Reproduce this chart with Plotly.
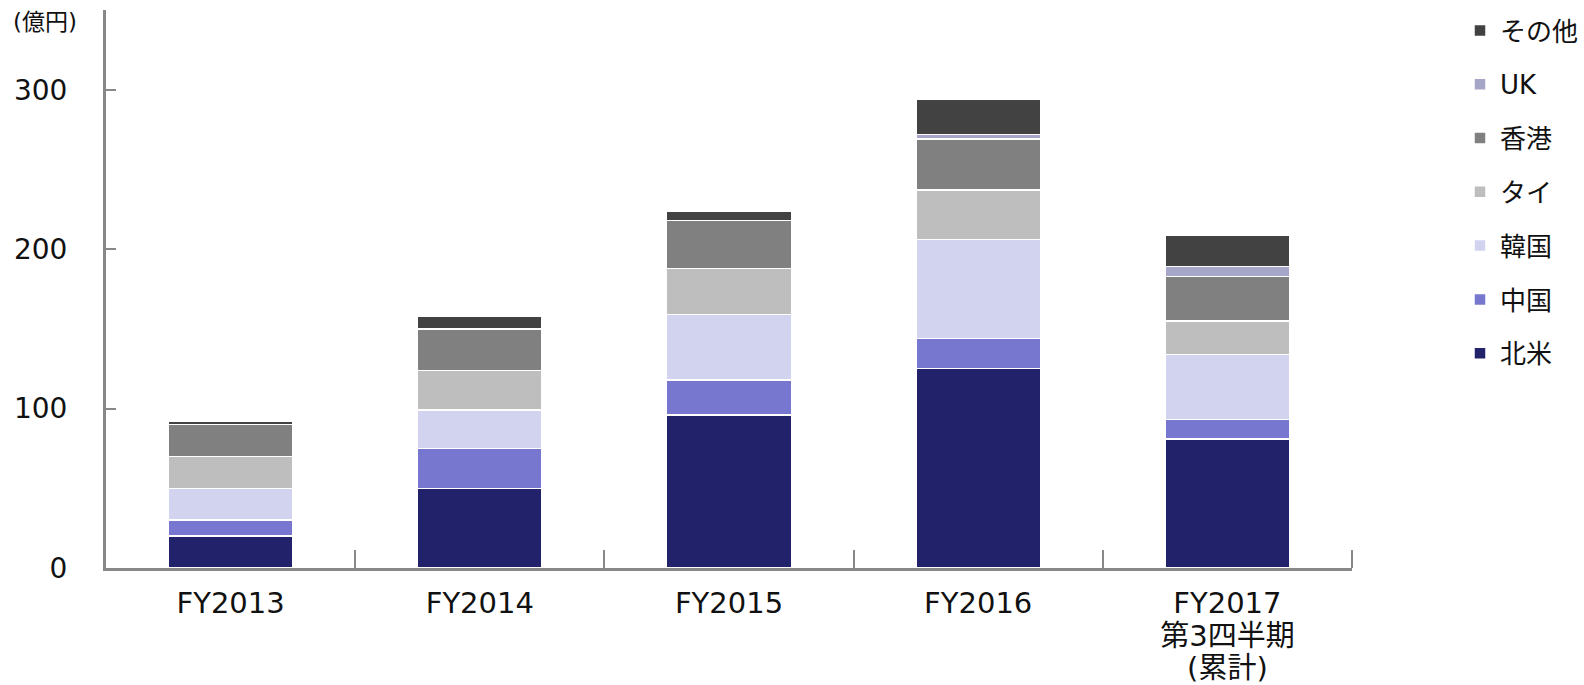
import plotly.graph_objects as go

# data (億円)
years = ["FY2013", "FY2014", "FY2015", "FY2016", "FY2017<br>第3四半期<br>(累計)"]
hokubei = [20, 50, 96, 125, 81]
chugoku = [10, 25, 22, 19, 12]
kankoku = [20, 24, 41, 62, 41]
tai = [20, 25, 29, 31, 21]
honkon = [20, 26, 30, 32, 28]
uk = [0, 0, 0, 3, 6]
sonota = [2, 8, 6, 22, 20]

series = [
    ("北米", hokubei, "#22226B"),
    ("中国", chugoku, "#7777D0"),
    ("韓国", kankoku, "#D2D3EF"),
    ("タイ", tai, "#BEBEBE"),
    ("香港", honkon, "#808080"),
    ("UK", uk, "#A5A6C8"),
    ("その他", sonota, "#424242"),
]

font_family = "DejaVu Sans, Noto Sans CJK JP, sans-serif"
axis_grey = "#888888"

fig = go.Figure()
for i, (name, vals, color) in enumerate(series):
    fig.add_trace(go.Bar(
        x=years, y=vals, name=name, legendgroup=name,
        legendrank=len(series) - i,  # その他 on top, 北米 at the bottom
        marker=dict(color=color, line=dict(color="white", width=1.5)),
    ))

# tick labels: bigger glyphs on a tighter line pitch, like the original
ticktext = ["<br>".join(f'<span style="font-size:29px">{part}</span>' for part in y.split("<br>"))
            for y in years]

fig.update_layout(
    barmode="stack",
    bargap=0.5,
    width=1584, height=685,
    margin=dict(l=106, r=232, t=10, b=117, autoexpand=False),
    plot_bgcolor="white", paper_bgcolor="white",
    font=dict(family=font_family, size=27, color="#111111"),
    legend=dict(
        traceorder="grouped", tracegroupgap=17,
        xref="container", yref="container",
        x=1460 / 1584, xanchor="left", y=1 - 7 / 685, yanchor="top",
        font=dict(size=26), itemwidth=30, maxheight=600,
    ),
    xaxis=dict(
        showline=True, linecolor=axis_grey, linewidth=3,
        ticks="inside", tickson="boundaries", ticklen=18,
        tickcolor=axis_grey, tickwidth=2,
        tickvals=years, ticktext=ticktext,
        ticklabelstandoff=12, tickfont=dict(size=25),
        showgrid=False,
    ),
    yaxis=dict(
        range=[0, 350], tickvals=[0, 100, 200, 300],
        showline=True, linecolor=axis_grey, linewidth=3,
        ticks="inside", ticklen=10, tickcolor=axis_grey, tickwidth=2,
        ticklabelstandoff=30, tickfont=dict(size=28),
        showgrid=False, zeroline=False,
    ),
    annotations=[dict(
        text="(億円)", x=-0.076, y=0.978, xref="paper", yref="paper",
        xanchor="left", yanchor="middle", showarrow=False,
        font=dict(size=23),
    )],
    # closing tick at the right end of the category axis
    shapes=[dict(
        type="line", xref="paper", yref="paper",
        x0=1, x1=1, y0=0, y1=18 / 558,
        line=dict(color=axis_grey, width=2),
    )],
)

# drop the browser's default body margin so the figure sits at the page origin
fig.write_html("out.html", config={"displayModeBar": False},
               post_script="document.body.style.margin='0';")
